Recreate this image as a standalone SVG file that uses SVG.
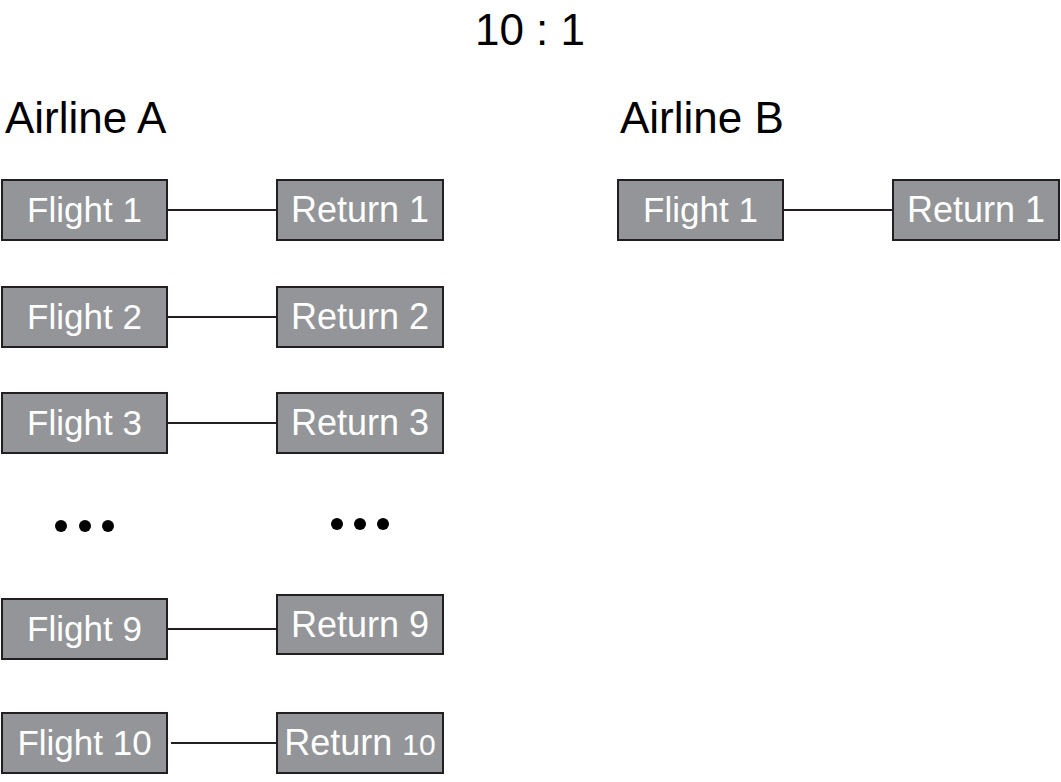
<svg xmlns="http://www.w3.org/2000/svg" width="1061" height="782" viewBox="0 0 1061 782">
  <style>
    .box { fill: #939598; stroke: #231f20; stroke-width: 2; }
    .lbl { font-family: "Liberation Sans", Arial, sans-serif; font-size: 35px; fill: #ffffff; text-anchor: middle; }
    .ret { font-size: 36px; }
    .head { font-family: "Liberation Sans", Arial, sans-serif; font-size: 44px; fill: #000000; }
    .link { stroke: #231f20; stroke-width: 2; fill: none; }
    .dot { fill: #000000; }
  </style>
  <rect width="1061" height="782" fill="#ffffff"/>

  <!-- Headings -->
  <text class="head" x="530" y="45" text-anchor="middle" font-size="45">10 : 1</text>
  <text class="head" x="5" y="133">Airline A</text>
  <text class="head" x="620" y="133">Airline B</text>

  <!-- Connectors -->
  <g id="connectors">
    <line class="link" x1="167" y1="210" x2="277" y2="210"/>
    <line class="link" x1="167" y1="317" x2="277" y2="317"/>
    <line class="link" x1="167" y1="423" x2="277" y2="423"/>
    <line class="link" x1="167" y1="629" x2="277" y2="629"/>
    <line class="link" x1="171" y1="743" x2="281" y2="743"/>
    <line class="link" x1="783" y1="210" x2="893" y2="210"/>
  </g>

  <!-- Airline A -->
  <g id="a-flight-1">
    <rect class="box" x="2" y="180" width="165" height="60"/>
    <text class="lbl" x="84.5" y="222">Flight 1</text>
  </g>
  <g id="a-return-1">
    <rect class="box" x="277" y="180" width="166" height="60"/>
    <text class="lbl ret" x="360" y="222">Return 1</text>
  </g>
  <g id="a-flight-2">
    <rect class="box" x="2" y="287" width="165" height="60"/>
    <text class="lbl" x="84.5" y="329">Flight 2</text>
  </g>
  <g id="a-return-2">
    <rect class="box" x="277" y="287" width="166" height="60"/>
    <text class="lbl ret" x="360" y="329">Return 2</text>
  </g>
  <g id="a-flight-3">
    <rect class="box" x="2" y="393" width="165" height="60"/>
    <text class="lbl" x="84.5" y="435">Flight 3</text>
  </g>
  <g id="a-return-3">
    <rect class="box" x="277" y="393" width="166" height="60"/>
    <text class="lbl ret" x="360" y="435">Return 3</text>
  </g>

  <!-- Ellipsis -->
  <g id="ellipsis-left">
    <circle class="dot" cx="61" cy="526" r="6"/>
    <circle class="dot" cx="85" cy="526" r="6"/>
    <circle class="dot" cx="108" cy="526" r="6"/>
  </g>
  <g id="ellipsis-right">
    <circle class="dot" cx="337" cy="524" r="6"/>
    <circle class="dot" cx="360" cy="524" r="6"/>
    <circle class="dot" cx="383" cy="524" r="6"/>
  </g>

  <g id="a-flight-9">
    <rect class="box" x="2" y="599" width="165" height="60"/>
    <text class="lbl" x="84.5" y="641">Flight 9</text>
  </g>
  <g id="a-return-9">
    <rect class="box" x="277" y="595" width="166" height="59"/>
    <text class="lbl ret" x="360" y="637">Return 9</text>
  </g>
  <g id="a-flight-10">
    <rect class="box" x="2" y="713" width="165" height="60"/>
    <text class="lbl" x="84.5" y="755">Flight 10</text>
  </g>
  <g id="a-return-10">
    <rect class="box" x="277" y="713" width="166" height="60"/>
    <text class="lbl ret" x="360" y="755">Return <tspan font-size="30">10</tspan></text>
  </g>

  <!-- Airline B -->
  <g id="b-flight-1">
    <rect class="box" x="618" y="180" width="165" height="60"/>
    <text class="lbl" x="700.5" y="222">Flight 1</text>
  </g>
  <g id="b-return-1">
    <rect class="box" x="893" y="180" width="166" height="60"/>
    <text class="lbl ret" x="976" y="222">Return 1</text>
  </g>
</svg>
